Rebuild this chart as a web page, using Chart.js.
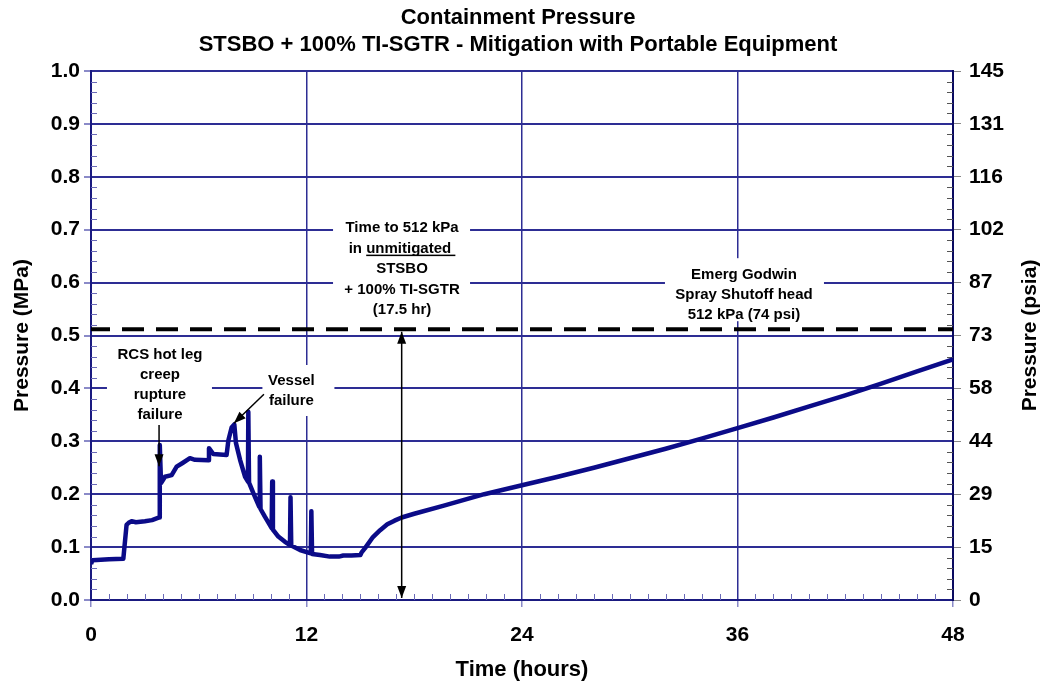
<!DOCTYPE html>
<html>
<head>
<meta charset="utf-8">
<script src="https://cdn.jsdelivr.net/npm/chart.js@4"></script>
<style>
  html, body { margin: 0; padding: 0; background: #fff; }
  #wrap { width: 1045px; height: 688px; }
</style>
</head>
<body>
<div id="wrap"><canvas id="chart" width="1045" height="688"></canvas></div>
<script>
// containment pressure (MPa) vs time (hours)
const hours = [
  0.00, 0.08, 1.00, 1.80, 1.98, 2.10, 2.26, 2.50, 3.00, 3.40, 3.80, 3.83, 3.90,
  4.12, 4.49, 4.77, 5.10, 5.51, 5.79, 6.53, 6.57, 6.81, 7.55, 7.65, 7.83, 7.98,
  8.07, 8.30, 8.58, 8.74, 8.76, 8.80, 9.04, 9.37, 9.40, 9.44, 9.69, 10.06, 10.09,
  10.13, 10.43, 10.80, 11.08, 11.11, 11.15, 11.64, 12.10, 12.24, 12.27, 12.31,
  12.75, 13.30, 13.80, 14.05, 14.50, 15.00, 15.07, 15.26, 15.70, 16.10, 16.50,
  16.90, 17.30, 18.00, 19.60, 21.90, 24.00, 26.00, 28.00, 30.00, 32.00, 34.00,
  36.00, 38.00, 40.00, 42.00, 44.00, 46.00, 48.00
];
const pressureMPa = [
  0.068, 0.075, 0.077, 0.078, 0.142, 0.146, 0.149, 0.147, 0.149, 0.151, 0.156, 0.293, 0.221,
  0.233, 0.236, 0.252, 0.259, 0.268, 0.265, 0.264, 0.287, 0.276, 0.274, 0.302, 0.326, 0.332,
  0.297, 0.265, 0.233, 0.224, 0.356, 0.222, 0.202, 0.176, 0.271, 0.172, 0.157, 0.136, 0.224,
  0.133, 0.120, 0.110, 0.104, 0.194, 0.103, 0.0945, 0.0895, 0.088, 0.168, 0.087,
  0.085, 0.082, 0.082, 0.084, 0.084, 0.085, 0.090, 0.098, 0.119, 0.132, 0.143,
  0.150, 0.156, 0.163, 0.178, 0.200, 0.217, 0.233, 0.250, 0.268, 0.286, 0.305,
  0.325, 0.345, 0.366, 0.387, 0.409, 0.432, 0.455
];

// spray shutoff head, 512 kPa
const shutoffHours = [0, 48];
const shutoffMPa = [0.512, 0.512];

// axis ticks
const timeTicks = [0, 12, 24, 36, 48];
const mpaTicks = [0, 0.1, 0.2, 0.3, 0.4, 0.5, 0.6, 0.7, 0.8, 0.9, 1.0];
const mpaLabels = ['0.0', '0.1', '0.2', '0.3', '0.4', '0.5', '0.6', '0.7', '0.8', '0.9', '1.0'];
const psiaLabels = ['0', '15', '29', '44', '58', '73', '87', '102', '116', '131', '145'];

const FONT = "'Liberation Sans', Arial, sans-serif";
const GRID = '#2d2d94';
const CURVE = '#0b0b88';

// text blocks: anchor in data units (first line centre), box offsets in px
const notes = [
  { x: 3.84, y: 0.463, lines: ['RCS hot leg', 'creep', 'rupture', 'failure'], step: 20, box: [-53, 52, -12, 73] },
  { x: 11.16, y: 0.414, lines: ['Vessel', 'failure'], step: 20, box: [-29, 43, -16, 35] },
  { x: 17.32, y: 0.703, lines: ['Time to 512 kPa', 'in |unmitigated |', 'STSBO', '+ 100% TI-SGTR', '(17.5 hr)'], step: 20.5, box: [-69, 68, -14, 92] },
  { x: 36.36, y: 0.614, lines: ['Emerg Godwin', 'Spray Shutoff head', '512 kPa (74 psi)'], step: 20, box: [-79, 80, -17, 46] }
];
const arrows = [
  { from: [3.79, 0.331], to: [3.79, 0.253], both: false },
  { from: [9.63, 0.389], to: [7.96, 0.334], both: false },
  { from: [17.3, 0.004], to: [17.3, 0.507], both: true }
];

function arrowHead(ctx, x0, y0, x1, y1) {
  const a = Math.atan2(y1 - y0, x1 - x0);
  const len = 12, half = 4.5;
  ctx.beginPath();
  ctx.moveTo(x1, y1);
  ctx.lineTo(x1 - len * Math.cos(a) + half * Math.sin(a), y1 - len * Math.sin(a) - half * Math.cos(a));
  ctx.lineTo(x1 - len * Math.cos(a) - half * Math.sin(a), y1 - len * Math.sin(a) + half * Math.cos(a));
  ctx.closePath();
  ctx.fill();
}

const decorPlugin = {
  id: 'decor',
  beforeDatasetsDraw(chart) {
    const { ctx, chartArea: ca, scales: { x, y } } = chart;
    ctx.save();
    // minor ticks, pointing into the plot
    ctx.lineWidth = 1;
    for (let i = 1; i < 50; i++) {
      if (i % 5 === 0) continue;
      const py = Math.round(y.getPixelForValue(i * 0.02)) + 0.5;
      ctx.strokeStyle = '#6a6ab8';
      ctx.beginPath(); ctx.moveTo(ca.left, py); ctx.lineTo(ca.left + 6, py); ctx.stroke();
      ctx.strokeStyle = '#555';
      ctx.beginPath(); ctx.moveTo(ca.right - 6, py); ctx.lineTo(ca.right, py); ctx.stroke();
    }
    ctx.strokeStyle = '#6a6ab8';
    for (let h = 1; h < 48; h++) {
      if (h % 12 === 0) continue;
      const px = Math.round(x.getPixelForValue(h)) + 0.5;
      ctx.beginPath(); ctx.moveTo(px, ca.bottom); ctx.lineTo(px, ca.bottom - 6); ctx.stroke();
    }
    // white boxes behind the notes
    ctx.fillStyle = '#fff';
    notes.forEach(n => {
      const cx = x.getPixelForValue(n.x), cy = y.getPixelForValue(n.y);
      ctx.fillRect(cx + n.box[0], cy + n.box[2], n.box[1] - n.box[0], n.box[3] - n.box[2]);
    });
    ctx.restore();
  },
  afterDatasetsDraw(chart) {
    const { ctx, scales: { x, y } } = chart;
    ctx.save();
    ctx.fillStyle = '#000';
    ctx.font = 'bold 15px ' + FONT;
    ctx.textBaseline = 'middle';
    notes.forEach(n => {
      const cx = x.getPixelForValue(n.x), cy = y.getPixelForValue(n.y);
      n.lines.forEach((line, i) => {
        const ly = cy + i * n.step;
        const parts = line.split('|');
        const w = ctx.measureText(parts.join('')).width;
        let lx = cx - w / 2;
        ctx.textAlign = 'left';
        parts.forEach((p, j) => {
          ctx.fillText(p, lx, ly);
          const pw = ctx.measureText(p).width;
          if (j === 1) ctx.fillRect(lx, ly + 6, pw, 1.5); // underline
          lx += pw;
        });
      });
    });
    // arrows
    ctx.strokeStyle = '#000';
    ctx.lineWidth = 1.5;
    arrows.forEach(a => {
      const x0 = x.getPixelForValue(a.from[0]), y0 = y.getPixelForValue(a.from[1]);
      const x1 = x.getPixelForValue(a.to[0]), y1 = y.getPixelForValue(a.to[1]);
      ctx.beginPath(); ctx.moveTo(x0, y0); ctx.lineTo(x1, y1); ctx.stroke();
      arrowHead(ctx, x0, y0, x1, y1);
      if (a.both) arrowHead(ctx, x1, y1, x0, y0);
    });
    ctx.restore();
  },
  afterDraw(chart) {
    const { ctx, chartArea: ca } = chart;
    ctx.save();
    ctx.fillStyle = '#000';
    ctx.textAlign = 'center';
    ctx.textBaseline = 'middle';
    ctx.font = 'bold 22px ' + FONT;
    ctx.fillText('Containment Pressure', 518, 18);
    ctx.fillText('STSBO + 100% TI-SGTR - Mitigation with Portable Equipment', 518, 45);
    ctx.fillText('Time (hours)', (ca.left + ca.right) / 2, 670);
    ctx.font = 'bold 21px ' + FONT;
    const midY = (ca.top + ca.bottom) / 2;
    [[22, 'Pressure (MPa)'], [1030, 'Pressure (psia)']].forEach(([tx, t]) => {
      ctx.save();
      ctx.translate(tx, midY);
      ctx.rotate(-Math.PI / 2);
      ctx.fillText(t, 0, 0);
      ctx.restore();
    });
    ctx.restore();
  }
};

const points = (xs, ys) => xs.map((v, i) => ({ x: v, y: ys[i] }));
const tickFont = { family: FONT, size: 21, weight: 'bold' };

new Chart(document.getElementById('chart'), {
  type: 'line',
  data: {
    datasets: [
      {
        data: points(hours, pressureMPa),
        borderColor: CURVE,
        borderWidth: 4.5,
        pointRadius: 0,
        tension: 0,
        borderJoinStyle: 'round'
      },
      {
        data: points(shutoffHours, shutoffMPa),
        borderColor: '#000',
        borderWidth: 4,
        borderDash: [22, 12],
        borderDashOffset: 3,
        pointRadius: 0
      }
    ]
  },
  options: {
    responsive: false,
    devicePixelRatio: 1,
    animation: false,
    layout: { padding: { top: 71 } },
    plugins: { legend: { display: false }, tooltip: { enabled: false }, title: { display: false } },
    scales: {
      x: {
        type: 'linear',
        min: 0, max: 48,
        afterBuildTicks: s => { s.ticks = timeTicks.map(v => ({ value: v })); },
        afterFit: s => { s.height = 88; },
        grid: { color: GRID, lineWidth: 1.5, tickLength: 7, tickColor: '#8a8ac8' },
        border: { color: '#1a1a80', width: 2 },
        ticks: { color: '#000', font: tickFont, padding: 16, maxRotation: 0 }
      },
      y: {
        position: 'left',
        min: 0, max: 1,
        afterBuildTicks: s => { s.ticks = mpaTicks.map(v => ({ value: v })); },
        afterFit: s => { s.width = 91; },
        grid: { color: GRID, lineWidth: 2, tickLength: 7, tickColor: '#8a8ac8' },
        border: { color: '#1a1a80', width: 2 },
        ticks: { color: '#000', font: tickFont, padding: 4, callback: (v, i) => mpaLabels[i] }
      },
      y2: {
        position: 'right',
        min: 0, max: 1,
        afterBuildTicks: s => { s.ticks = mpaTicks.map(v => ({ value: v })); },
        afterFit: s => { s.width = 92; },
        grid: { drawOnChartArea: false, tickLength: 8, tickColor: '#888' },
        border: { color: '#0a0a60', width: 2 },
        ticks: { color: '#000', font: tickFont, padding: 8, callback: (v, i) => psiaLabels[i] }
      }
    }
  },
  plugins: [decorPlugin]
});
</script>
</body>
</html>
